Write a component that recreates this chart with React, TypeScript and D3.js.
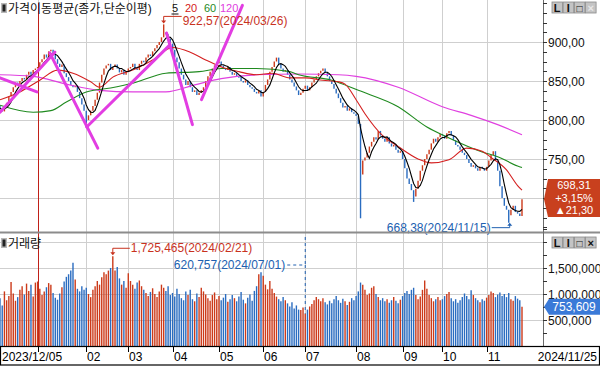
import React from "react";
import * as d3 from "d3";

// ---- DATA ----
const monthDays: [string, number[]][] = [
  ["2023-12", [5, 6, 7, 8, 11, 12, 13, 14, 15, 18, 19, 20, 21, 22, 26, 27, 28]],
  ["2024-01", [2, 3, 4, 5, 8, 9, 10, 11, 12, 15, 16, 17, 18, 19, 22, 23, 24, 25, 26, 29, 30, 31]],
  ["2024-02", [1, 2, 5, 6, 7, 8, 13, 14, 15, 16, 19, 20, 21, 22, 23, 26, 27, 28, 29]],
  ["2024-03", [4, 5, 6, 7, 8, 11, 12, 13, 14, 15, 18, 19, 20, 21, 22, 25, 26, 27, 28, 29]],
  ["2024-04", [1, 2, 3, 4, 5, 8, 9, 11, 12, 15, 16, 17, 18, 19, 22, 23, 24, 25, 26, 29, 30]],
  ["2024-05", [2, 3, 7, 8, 9, 10, 13, 14, 16, 17, 20, 21, 22, 23, 24, 27, 28, 29, 30, 31]],
  ["2024-06", [3, 4, 5, 7, 10, 11, 12, 13, 14, 17, 18, 19, 20, 21, 24, 25, 26, 27, 28]],
  ["2024-07", [1, 2, 3, 4, 5, 8, 9, 10, 11, 12, 15, 16, 17, 18, 19, 22, 23, 24, 25, 26, 29, 30, 31]],
  ["2024-08", [1, 2, 5, 6, 7, 8, 9, 12, 13, 14, 16, 19, 20, 21, 22, 23, 26, 27, 28, 29, 30]],
  ["2024-09", [2, 3, 4, 5, 6, 9, 10, 11, 12, 13, 19, 20, 23, 24, 25, 26, 27, 30]],
  ["2024-10", [2, 4, 7, 8, 10, 11, 14, 15, 16, 17, 18, 21, 22, 23, 24, 25, 28, 29, 30, 31]],
  ["2024-11", [1, 4, 5, 6, 7, 8, 11, 12, 13, 14, 15, 18, 19, 20, 21, 22, 25]],
];

const closes: number[] = [
  815, 811, 816, 822, 830, 836, 842, 848, 845, 850, 854, 852, 858, 862, 858, 864, 866,
  868, 874, 878, 884, 880, 888, 890, 885, 878, 872, 868, 871, 860, 855, 850, 845, 842, 844, 836, 828, 820, 812,
  800, 806, 812, 818, 826, 835, 848, 858, 866, 870, 872, 864, 868, 871, 866, 861, 864, 858, 862,
  866, 868, 872, 866, 864, 872, 876, 874, 880, 884, 882, 888, 892, 896, 900, 906, 912, 910, 904, 898,
  890, 880, 874, 866, 858, 852, 845, 850, 842, 836, 838, 832, 835, 838, 842, 850, 856, 862, 866, 870, 873,
  875, 870, 866, 864, 868, 862, 858, 860, 856, 855, 850, 848, 851, 845, 842, 840, 836, 834, 838, 830,
  836, 845, 852, 862, 868, 875, 880, 872, 866, 862, 864, 858, 852, 848, 843, 838, 832, 835, 840,
  844, 838, 842, 848, 852, 856, 860, 863, 866, 861, 856, 850, 846, 840, 834, 828, 822, 816, 818, 812, 815, 810, 808,
  805, 795, 730, 748, 752, 758, 766, 772, 778, 775, 786, 780, 776, 772, 778, 770, 766, 768, 762, 758, 760,
  750, 738, 725, 718, 710, 702, 712, 722, 735, 742, 750, 756, 762, 770, 776, 772, 778, 782,
  780, 776, 783, 786, 780, 774, 768, 766, 762, 758, 755, 750, 745, 740, 742, 738, 735, 740, 738, 735,
  740, 748, 755, 760, 748, 735, 715, 700, 690, 685, 678, 685, 690, 682, 680, 677.01, 698.31,
];

// volume in thousands of shares
const volumesK: number[] = [
  920, 780, 1050, 880, 960, 1230, 1010, 870, 940, 1080, 1150, 990, 1200, 1060, 1180, 950, 1220,
  1240, 1100, 980, 1050, 1130, 1210, 1180, 1020, 930, 890, 1010, 1130, 1240, 1330, 1380, 1450, 1600, 1280, 1100, 1050, 1150, 1080,
  1120, 1000, 940, 1080, 1150, 1250, 1180, 1320, 1420, 1380, 1450, 1500, 1725.465, 1450, 1520, 1300, 1180, 1250, 1120,
  1400, 1250, 1180, 1100, 1220, 1260, 1150, 1080, 1020, 960, 1040, 1110, 1000, 940, 1050, 1180, 1120, 1060, 1150, 980,
  1020, 950, 1100, 1000, 920, 880, 1050, 980, 1080, 900, 860, 1010, 940, 1120, 1050, 990, 920, 870, 980, 1030, 900,
  960, 880, 930, 1000, 850, 900, 980, 920, 860, 950, 1040, 890, 820, 930, 990, 870, 1060, 1150, 1380, 1420,
  1350, 1180, 1090, 1250, 1100, 1020, 950, 900, 860, 940, 880, 820, 760, 840, 720, 780, 700, 690, 740,
  620.757, 700, 760, 810, 880, 940, 900, 860, 920, 840, 800, 870, 820, 900, 960, 880, 830, 910, 860, 790, 850, 920, 880,
  960, 1050, 1220, 1180, 1080, 980, 1010, 1120, 1150, 1000, 940, 880, 920, 860, 900, 830, 880, 940, 870, 820, 890,
  960, 1020, 1060, 1000, 1080, 1120, 980, 900, 950, 1080, 1260, 1100, 980, 920, 860, 900, 940, 880,
  900, 960, 1000, 1040, 920, 860, 900, 830, 880, 940, 1010, 960, 900, 1070, 980, 920, 880, 840, 900, 870,
  930, 980, 1050, 1020, 940, 990, 1030, 960, 1000, 940, 1020, 900, 870, 960, 910, 880, 753.609,
];

const wickHigh: [number, number][] = [[74, 922.57]];
const wickLow: [number, number][] = [[39, 791], [163, 674], [187, 695], [230, 668.38]];

// moving averages: [day index, value]
const ma20Pts: [number, number][] = [
  [0, 826], [9, 836], [18, 851], [26, 864], [33, 860], [41, 849], [45, 842], [51, 855], [60, 864], [69, 877],
  [78, 893], [86, 887], [93, 877], [101, 867], [108, 862], [116, 858], [123, 860], [131, 854], [138, 854],
  [146, 851], [153, 849], [156, 846], [161, 826], [165, 808], [173, 780], [180, 766], [189, 750], [195, 745],
  [203, 749], [211, 764], [218, 760], [222, 752], [229, 736], [234, 716], [236, 710],
];
const ma60Pts: [number, number][] = [
  [0, 819], [15, 810], [23, 812], [30, 823], [39, 836], [50, 841], [60, 847], [75, 860], [90, 862], [100, 866],
  [116, 866], [131, 862], [135, 858], [150, 851], [162, 838], [180, 817], [193, 791], [203, 777], [218, 759],
  [225, 753], [234, 741], [236, 739],
];
const ma120Pts: [number, number][] = [
  [0, 858], [15, 856], [30, 846], [45, 838], [60, 836], [75, 836], [88, 845], [100, 853], [116, 858], [135, 859],
  [153, 858], [161, 856], [180, 842], [200, 817], [213, 806], [225, 794], [236, 781],
];

// user-drawn trend lines: [idx1, price1, idx2, price2]
const trendLines: [number, number, number, number][] = [
  [0, 854, 16.7, 836],
  [0, 810, 24.8, 887],
  [22.5, 886, 44.2, 764],
  [39.2, 791, 76.7, 896],
  [75.3, 911.5, 87.0, 794],
  [91.1, 826, 109.6, 947],
];

const maPeriods = ["5", "20", "60", "120"];
const priceTicks = [900, 850, 800, 750];
const priceGrid = [900, 850, 800, 750, 700];
const volTicks = [1500000, 1000000, 500000];
const volGrid = [2000000, 1500000, 1000000, 500000];
const monthLabels = ["", "02", "03", "04", "05", "06", "07", "08", "09", "10", "11"];

// ---- LAYOUT ----
const W = 600;
const H = 366;
const AX = 543;
const PRICE_BOT = 231;
const VOL_TOP = 234;
const VOL_BOT = 346;

const UP = "#cc3a1a";
const DOWN = "#2a6cc0";
const MA_COLORS = ["#111", "#d42020", "#1f8a1f", "#e040e0"];
const FONT = "'Liberation Sans', Arial, 'Noto Sans CJK KR', sans-serif";

const dates: string[] = monthDays.flatMap(([m, ds]) => ds.map((d) => `${m}-${String(d).padStart(2, "0")}`));
const N = dates.length;

const xi = d3.scaleLinear().domain([0, N - 1]).range([0, 522]);
const yp = d3.scaleLinear().domain([700, 900]).range([198, 42]);
const yv = d3.scaleLinear().domain([0, 1500000]).range([VOL_BOT, 268]);

const fmtP = (v: number) => d3.format(".2f")(v).replace(".", ",");
const fmtV = d3.format(",");

function Buttons({ y, xDisabled }: { y: number; xDisabled: boolean }) {
  const labels = ["L", "I", "□", "×"];
  return (
    <g>
      {labels.map((l, i) => (
        <g key={i}>
          <rect x={552 + i * 11.2} y={y} width={10.5} height={11} fill="#c4c4c4" stroke="#8a8a8a" strokeWidth={0.8} />
          <text
            x={552 + i * 11.2 + 5.2}
            y={y + 9.5}
            fontSize={i === 2 ? 10 : 11}
            fontWeight="bold"
            textAnchor="middle"
            fontFamily={FONT}
            fill={i === 3 && xDisabled ? "#e8e8e8" : "#111"}
          >
            {l}
          </text>
        </g>
      ))}
    </g>
  );
}

export default function App() {
  const opens = closes.map((c, i) => (i === 0 ? 818 : closes[i - 1]));
  const isUp = closes.map((c, i) => c >= opens[i]);
  const hiMap = new Map(wickHigh);
  const loMap = new Map(wickLow);

  const ma5 = closes.map((_, i) => d3.mean(closes.slice(Math.max(0, i - 4), i + 1)) as number);
  const lineIdx = d3
    .line<number>()
    .x((_, i) => xi(i))
    .y((d) => yp(d));
  const lineKp = d3
    .line<[number, number]>()
    .x((d) => xi(d[0]))
    .y((d) => yp(d[1]))
    .curve(d3.curveMonotoneX);

  const monthStarts: number[] = [];
  let acc = 0;
  monthDays.forEach(([, ds], k) => {
    if (k > 0) monthStarts.push(acc);
    acc += ds.length;
  });

  const maxVolIdx = d3.maxIndex(volumesK);
  const minVolIdx = d3.minIndex(volumesK);
  const hiIdx = wickHigh[0][0];
  const loIdx = 230;
  const last = N - 1;
  const chg = closes[last] - closes[last - 1];
  const pct = (chg / closes[last - 1]) * 100;

  const xHi = xi(hiIdx);
  const yHi = yp(hiMap.get(hiIdx) as number);
  const xLo = xi(loIdx);
  const yLo = yp(loMap.get(loIdx) as number);
  const xVmax = xi(maxVolIdx);
  const yVmax = yv(volumesK[maxVolIdx] * 1000);
  const xVmin = xi(minVolIdx);
  const yVmin = yv(volumesK[minVolIdx] * 1000);
  const yLast = yp(closes[last]);
  const yVlast = yv(volumesK[last] * 1000);

  const minorPrice = d3.range(662.5, 955, 12.5);
  const minorVol = d3.range(250000, 2250001, 250000);

  const legendX = [172, 185, 204, 220];

  return (
    <svg
      width={W}
      height={H}
      viewBox={`0 0 ${W} ${H}`}
      style={{ position: "absolute", left: 0, top: 0, background: "#fff" }}
      fontFamily={FONT}
    >
      <defs>
        <clipPath id="pclip">
          <rect x={0} y={0} width={AX} height={PRICE_BOT} />
        </clipPath>
        <clipPath id="vclip">
          <rect x={0} y={VOL_TOP} width={AX} height={VOL_BOT - VOL_TOP} />
        </clipPath>
      </defs>
      <rect x={0} y={0} width={W} height={H} fill="#fff" />

      {/* grid */}
      {priceGrid.map((p) => (
        <line key={"pg" + p} x1={0} x2={AX} y1={Math.round(yp(p)) + 0.5} y2={Math.round(yp(p)) + 0.5} stroke="#cfcfcf" />
      ))}
      {volGrid.map((v) => (
        <line key={"vg" + v} x1={0} x2={AX} y1={Math.round(yv(v)) + 0.5} y2={Math.round(yv(v)) + 0.5} stroke="#cfcfcf" />
      ))}
      {monthStarts.map((i) => (
        <line key={"mg" + i} x1={Math.round(xi(i)) + 0.5} x2={Math.round(xi(i)) + 0.5} y1={0} y2={VOL_BOT} stroke="#cfcfcf" />
      ))}

      {/* year marker */}
      <line x1={Math.round(xi(17)) + 0.5} x2={Math.round(xi(17)) + 0.5} y1={3} y2={VOL_BOT} stroke="#c02018" strokeWidth={1} />

      {/* price panel */}
      <g clipPath="url(#pclip)">
        {closes.map((c, i) => {
          const o = opens[i];
          const top = Math.max(o, c, hiMap.get(i) ?? -Infinity);
          const bot = Math.min(o, c, loMap.get(i) ?? Infinity);
          let y1 = yp(top);
          let y2 = yp(bot);
          if (y2 - y1 < 1.5) y2 = y1 + 1.5;
          return (
            <line key={"c" + i} x1={xi(i)} x2={xi(i)} y1={y1} y2={y2} stroke={isUp[i] ? UP : DOWN} strokeWidth={1.4} />
          );
        })}
        <path d={lineKp(ma120Pts) as string} fill="none" stroke={MA_COLORS[3]} strokeWidth={1.2} />
        <path d={lineKp(ma60Pts) as string} fill="none" stroke={MA_COLORS[2]} strokeWidth={1.1} />
        <path d={lineKp(ma20Pts) as string} fill="none" stroke={MA_COLORS[1]} strokeWidth={1.1} />
        <path d={lineIdx(ma5) as string} fill="none" stroke="#000" strokeWidth={1.1} />
        {trendLines.map((t, k) => (
          <line key={"t" + k} x1={xi(t[0])} y1={yp(t[1])} x2={xi(t[2])} y2={yp(t[3])} stroke="#e23de2" strokeWidth={3} strokeLinecap="round" />
        ))}
      </g>

      {/* high marker */}
      <polyline points={`${xHi + 18},${yHi - 8} ${xHi},${yHi - 8} ${xHi},${yHi - 2}`} fill="none" stroke="#c8321e" />
      <path d={`M${xHi - 2.5},${yHi - 4} L${xHi + 2.5},${yHi - 4} L${xHi},${yHi - 1} Z`} fill="#c8321e" />
      <text x={xHi + 19} y={yHi + 0.5} fontSize={12} fill="#c8321e">
        {`${fmtP(hiMap.get(hiIdx) as number)}(2024/03/26)`}
      </text>

      {/* low marker */}
      <polyline points={`${xLo - 17},${yLo + 5} ${xLo + 1},${yLo + 5} ${xLo + 1},${yLo + 2}`} fill="none" stroke="#2060b0" strokeWidth={1} />
      <path d={`M${xLo - 1.5},${yLo + 3} L${xLo + 3.5},${yLo + 3} L${xLo + 1},${yLo} Z`} fill="#2060b0" />
      <text x={xLo - 18} y={yLo + 9} fontSize={12} fill="#2060b0" textAnchor="end">
        {`${fmtP(loMap.get(loIdx) as number)}(2024/11/15)`}
      </text>

      {/* legend */}
      <rect x={1} y={3} width={6} height={10} fill="#b8b8b8" />
      <rect x={2.5} y={4.5} width={3} height={7} fill="#222" />
      <text x={8} y={13} fontSize={12} fill="#111">
        가격이동평균(종가,단순이평)
      </text>
      {maPeriods.map((p, k) => (
        <text key={"lg" + p} x={legendX[k]} y={12} fontSize={11} fill={MA_COLORS[k]}>
          {p}
        </text>
      ))}
      <line x1={171.5} x2={178.5} y1={14} y2={14} stroke="#111" />

      {/* volume panel */}
      <g clipPath="url(#vclip)">
        {volumesK.map((v, i) => (
          <line key={"v" + i} x1={xi(i)} x2={xi(i)} y1={yv(v * 1000)} y2={VOL_BOT} stroke={isUp[i] ? UP : DOWN} strokeWidth={1.4} />
        ))}
      </g>
      {/* max volume marker */}
      <polyline points={`${xVmax + 17},${yVmax - 8} ${xVmax},${yVmax - 8} ${xVmax},${yVmax - 2}`} fill="none" stroke="#c8321e" />
      <path d={`M${xVmax - 2.5},${yVmax - 4} L${xVmax + 2.5},${yVmax - 4} L${xVmax},${yVmax - 1} Z`} fill="#c8321e" />
      <text x={xVmax + 18} y={yVmax - 4} fontSize={12} fill="#c8321e">
        {`${fmtV(Math.round(volumesK[maxVolIdx] * 1000))}(2024/02/21)`}
      </text>
      {/* min volume marker */}
      <text x={xVmin - 20} y={269} fontSize={12} fill="#2060b0" textAnchor="end">
        {`${fmtV(Math.round(volumesK[minVolIdx] * 1000))}(2024/07/01)`}
      </text>
      <polyline points={`${xVmin - 18},265 ${xVmin},265 ${xVmin},${yVmin}`} fill="none" stroke="#2060b0" strokeDasharray="3,3" />
      <line x1={xVmin} x2={xVmin} y1={VOL_TOP + 3} y2={265} stroke="#2060b0" strokeDasharray="3,3" />

      <rect x={1} y={238} width={6} height={10} fill="#b8b8b8" />
      <rect x={2.5} y={239.5} width={3} height={7} fill="#222" />
      <text x={8} y={248} fontSize={12} fill="#111">거래량</text>

      {/* separator & axes */}
      <line x1={0} x2={W} y1={232.5} y2={232.5} stroke="#8c8c8c" strokeWidth={2} />
      <line x1={AX + 0.5} x2={AX + 0.5} y1={0} y2={VOL_BOT} stroke="#6a6a6a" />

      {minorPrice.map((p) => (
        <line key={"mt" + p} x1={AX} x2={AX + 4} y1={Math.round(yp(p)) + 0.5} y2={Math.round(yp(p)) + 0.5} stroke="#333" />
      ))}
      {priceTicks.map((p) => (
        <text key={"pl" + p} x={AX + 5} y={yp(p) + 4.5} fontSize={12} fill="#111">
          {fmtP(p)}
        </text>
      ))}
      {minorVol.map((v) => (
        <line key={"vt" + v} x1={AX} x2={AX + 4} y1={Math.round(yv(v)) + 0.5} y2={Math.round(yv(v)) + 0.5} stroke="#333" />
      ))}
      {volTicks.map((v) => (
        <text key={"vl" + v} x={AX + 5} y={yv(v) + 4.5} fontSize={12} fill="#111">
          {fmtV(v)}
        </text>
      ))}

      {/* last price badge */}
      <path d={`M${AX + 1},${yLast} L${AX + 5},${179} L${W},${179} L${W},${217} L${AX + 5},${217} Z`} fill="#c8401e" />
      <g fill="#fff" fontSize={11} textAnchor="middle">
        <text x={574} y={189}>{fmtP(closes[last])}</text>
        <text x={574} y={201.7}>{`+${fmtP(pct)}%`}</text>
        <text x={574} y={214.4}>{`▲${fmtP(chg)}`}</text>
      </g>

      {/* last volume badge */}
      <path
        d={`M${AX + 1},${yVlast} L${AX + 6},${yVlast - 8} L${W},${yVlast - 8} L${W},${yVlast + 8} L${AX + 6},${yVlast + 8} Z`}
        fill="#3a7ad8"
      />
      <text x={574} y={yVlast + 4.5} fontSize={12} fill="#fff" textAnchor="middle">
        {fmtV(Math.round(volumesK[last] * 1000))}
      </text>

      <Buttons y={2} xDisabled={true} />
      <Buttons y={237} xDisabled={false} />

      {/* x axis */}
      <rect x={0.5} y={VOL_BOT + 0.5} width={W - 1} height={H - VOL_BOT - 1.5} fill="#fff" stroke="#000" strokeWidth={1.2} />
      {monthStarts.map((i, k) => (
        <g key={"xl" + i}>
          <line x1={Math.round(xi(i)) + 0.5} x2={Math.round(xi(i)) + 0.5} y1={VOL_BOT + 1} y2={VOL_BOT + 6} stroke="#000" />
          {k > 0 && (
            <text x={Math.round(xi(i)) + 1} y={VOL_BOT + 15} fontSize={12} fill="#000">
              {monthLabels[k]}
            </text>
          )}
        </g>
      ))}
      <text x={2} y={VOL_BOT + 15} fontSize={12} fill="#000">
        {dates[0].replace(/-/g, "/")}
      </text>
      <text x={597} y={VOL_BOT + 15} fontSize={12} fill="#000" textAnchor="end">
        {dates[N - 1].replace(/-/g, "/")}
      </text>
    </svg>
  );
}
